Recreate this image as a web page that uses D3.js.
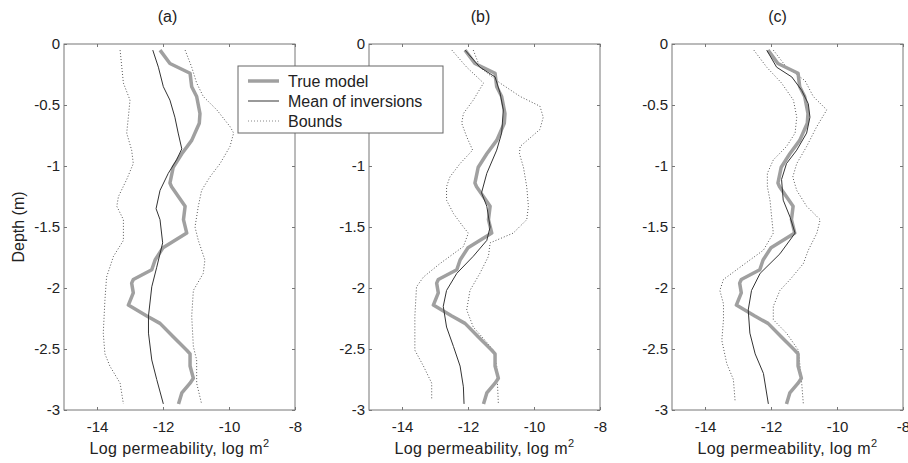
<!DOCTYPE html>
<html>
<head>
<meta charset="utf-8">
<style>
  body { margin: 0; background: #fff; }
  text { font-family: "Liberation Sans", Arial, sans-serif; fill: #222; }
  .frame { fill: none; stroke: #777; stroke-width: 1; }
  .tick line { stroke: #777; }
</style>
<script src="https://cdn.jsdelivr.net/npm/d3@7"></script>
</head>
<body>
<svg id="chart" width="908" height="463"></svg>
<script>
// data, [depth (m), log permeability]
const panelTitles = ['(a)', '(b)', '(c)'];
const xTicks = [-14, -12, -10, -8];
const yTicks = [0, -0.5, -1, -1.5, -2, -2.5, -3];
const legendLabels = ['True model', 'Mean of inversions', 'Bounds'];

const trueModel = [[-0.05,-12.09],[-0.16,-11.79],[-0.24,-11.18],[-0.35,-11.13],[-0.43,-10.98],[-0.57,-10.88],
  [-0.65,-10.90],[-0.79,-11.13],[-0.90,-11.43],[-1.01,-11.69],[-1.14,-11.79],[-1.17,-11.74],[-1.33,-11.33],
  [-1.44,-11.38],[-1.55,-11.28],[-1.67,-12.0],[-1.77,-12.24],[-1.85,-12.34],[-1.93,-12.90],[-1.96,-12.95],
  [-2.04,-12.90],[-2.14,-13.05],[-2.23,-12.49],[-2.29,-12.09],[-2.40,-11.69],[-2.51,-11.28],[-2.54,-11.18],
  [-2.64,-11.18],[-2.74,-11.08],[-2.78,-11.18],[-2.86,-11.43],[-2.95,-11.53]];

const meanA = [[-0.05,-12.31],[-0.19,-12.14],[-0.35,-11.99],[-0.46,-11.79],[-0.60,-11.64],[-0.73,-11.54],
  [-0.86,-11.43],[-0.95,-11.59],[-1.06,-11.84],[-1.20,-12.09],[-1.35,-12.21],[-1.44,-12.09],[-1.63,-12.01],
  [-1.83,-12.19],[-1.99,-12.34],[-2.23,-12.44],[-2.37,-12.44],[-2.59,-12.34],[-2.75,-12.19],[-2.95,-11.99]];
const lowerA = [[-0.05,-13.30],[-0.32,-13.20],[-0.46,-13.0],[-0.60,-13.05],[-0.73,-13.10],[-0.87,-12.95],
  [-0.98,-12.90],[-1.11,-13.10],[-1.25,-13.35],[-1.33,-13.40],[-1.44,-13.20],[-1.61,-13.20],[-1.74,-13.50],
  [-1.91,-13.71],[-2.10,-13.76],[-2.37,-13.81],[-2.54,-13.76],[-2.64,-13.61],[-2.78,-13.30],[-2.95,-13.20]];
const upperA = [[-0.05,-11.33],[-0.19,-11.13],[-0.32,-10.98],[-0.43,-10.78],[-0.54,-10.37],[-0.68,-9.96],
  [-0.73,-9.86],[-0.84,-9.97],[-0.98,-10.27],[-1.09,-10.58],[-1.20,-10.83],[-1.33,-10.93],[-1.50,-11.03],
  [-1.61,-10.93],[-1.77,-10.73],[-1.88,-10.78],[-2.02,-11.08],[-2.23,-11.13],[-2.48,-11.08],[-2.59,-10.98],
  [-2.78,-10.98],[-2.95,-10.83]];

const meanB = [[-0.05,-12.09],[-0.19,-11.64],[-0.27,-11.18],[-0.40,-11.03],[-0.54,-10.93],[-0.73,-10.98],
  [-0.87,-11.13],[-1.06,-11.43],[-1.22,-11.59],[-1.33,-11.43],[-1.50,-11.33],[-1.61,-11.43],[-1.74,-11.84],
  [-1.88,-12.34],[-2.02,-12.65],[-2.15,-12.75],[-2.32,-12.65],[-2.48,-12.44],[-2.64,-12.24],[-2.81,-12.14],
  [-2.95,-12.12]];
const lowerB = [[-0.05,-12.49],[-0.19,-12.04],[-0.32,-11.53],[-0.46,-11.84],[-0.57,-12.14],[-0.65,-12.19],
  [-0.76,-12.04],[-0.87,-11.86],[-0.98,-12.24],[-1.09,-12.55],[-1.17,-12.65],[-1.28,-12.65],[-1.39,-12.44],
  [-1.50,-12.14],[-1.55,-11.99],[-1.66,-12.14],[-1.80,-12.85],[-1.91,-13.35],[-1.99,-13.56],[-2.23,-13.61],
  [-2.51,-13.61],[-2.64,-13.35],[-2.78,-13.10],[-2.92,-13.10]];
const upperB = [[-0.05,-11.84],[-0.19,-11.64],[-0.32,-11.03],[-0.43,-10.42],[-0.51,-9.82],[-0.60,-9.72],
  [-0.70,-9.82],[-0.84,-10.42],[-0.90,-10.44],[-1.01,-10.32],[-1.17,-10.22],[-1.33,-10.17],[-1.44,-10.22],
  [-1.55,-10.63],[-1.63,-11.33],[-1.74,-11.38],[-1.88,-11.64],[-2.02,-11.94],[-2.18,-12.04],[-2.32,-11.84],
  [-2.43,-11.48],[-2.51,-11.23],[-2.64,-11.13],[-2.95,-11.08]];

const meanC = [[-0.05,-12.13],[-0.19,-11.83],[-0.27,-11.37],[-0.38,-11.07],[-0.49,-10.87],[-0.60,-10.82],
  [-0.73,-10.92],[-0.87,-11.22],[-0.98,-11.53],[-1.11,-11.68],[-1.28,-11.63],[-1.42,-11.42],[-1.55,-11.27],
  [-1.72,-11.73],[-1.88,-12.33],[-2.02,-12.59],[-2.18,-12.69],[-2.37,-12.64],[-2.54,-12.48],[-2.70,-12.23],
  [-2.95,-12.08]];
const lowerC = [[-0.05,-12.52],[-0.19,-12.13],[-0.32,-11.68],[-0.46,-11.32],[-0.60,-11.22],[-0.73,-11.27],
  [-0.84,-11.53],[-0.95,-11.93],[-1.06,-12.11],[-1.17,-12.11],[-1.28,-12.03],[-1.42,-11.98],[-1.55,-11.93],
  [-1.69,-12.23],[-1.83,-12.94],[-1.93,-13.44],[-2.02,-13.55],[-2.13,-13.44],[-2.26,-13.44],[-2.43,-13.49],
  [-2.62,-13.34],[-2.75,-13.14],[-2.92,-13.09]];
const upperC = [[-0.05,-11.93],[-0.19,-11.53],[-0.30,-10.97],[-0.43,-10.72],[-0.54,-10.31],[-0.68,-10.62],
  [-0.84,-10.92],[-0.98,-11.22],[-1.09,-11.34],[-1.20,-11.22],[-1.33,-10.92],[-1.44,-10.51],[-1.55,-10.61],
  [-1.69,-10.87],[-1.80,-11.02],[-1.93,-11.42],[-2.02,-11.73],[-2.15,-11.93],[-2.26,-11.93],[-2.37,-11.53],
  [-2.51,-11.17],[-2.64,-11.12],[-2.78,-11.07],[-2.95,-11.02]];

const panels = [
  {title: panelTitles[0], left: 64, titleShift: -12, mean: meanA, lower: lowerA, upper: upperA},
  {title: panelTitles[1], left: 369, titleShift: -4, mean: meanB, lower: lowerB, upper: upperB},
  {title: panelTitles[2], left: 672, titleShift: -10, mean: meanC, lower: lowerC, upper: upperC}
];

const plotW = 231, plotTop = 44, plotBottom = 410;
const legendBox = {x: 238, y: 66, w: 205, h: 67};
const svg = d3.select('#chart');

const y = d3.scaleLinear().domain([0, -3]).range([plotTop, plotBottom]);
const fmt = d => String(d);   // plain hyphen minus like matlab

const styles = {
  truth: {stroke: '#a0a0a0', width: 3.5, dash: null},
  mean: {stroke: '#333', width: 1, dash: null},
  bounds: {stroke: '#555', width: 1, dash: '1,2'}
};

panels.forEach((p, i) => {
  const x = d3.scaleLinear().domain([-15, -8]).range([p.left, p.left + plotW]);
  const g = svg.append('g');
  const line = d3.line().x(d => x(d[1])).y(d => y(d[0]));

  // curves
  const draw = (data, s) => g.append('path').datum(data)
    .attr('d', line).attr('fill', 'none')
    .attr('stroke', s.stroke).attr('stroke-width', s.width)
    .attr('stroke-dasharray', s.dash).attr('stroke-linejoin', 'round');
  draw(p.lower, styles.bounds);
  draw(p.upper, styles.bounds);
  draw(trueModel, styles.truth);
  draw(p.mean, styles.mean);

  // axes, ticks inward on all sides
  g.append('g').attr('transform', `translate(0,${plotBottom})`)
    .call(d3.axisBottom(x).tickValues(xTicks).tickFormat(fmt).tickSizeInner(-3).tickSizeOuter(0).tickPadding(11))
    .call(a => a.select('.domain').remove())
    .selectAll('text').attr('font-size', 15).attr('fill', '#222');
  g.append('g').attr('transform', `translate(0,${plotTop})`)
    .call(d3.axisTop(x).tickValues(xTicks).tickSizeInner(-3).tickSizeOuter(0).tickFormat(''))
    .call(a => a.select('.domain').remove());
  g.append('g').attr('transform', `translate(${p.left},0)`)
    .call(d3.axisLeft(y).tickValues(yTicks).tickFormat(fmt).tickSizeInner(-3).tickSizeOuter(0).tickPadding(4))
    .call(a => a.select('.domain').remove())
    .selectAll('text').attr('font-size', 15).attr('fill', '#222')
    // the legend box hides labels that fall under it
    .filter(function() {
      const b = this.getBBox(), ty = y(this.__data__);
      const ax = p.left - 4 - b.width;
      return ax < legendBox.x + legendBox.w && p.left > legendBox.x &&
        ty > legendBox.y && ty < legendBox.y + legendBox.h;
    }).remove();
  g.append('g').attr('transform', `translate(${p.left + plotW},0)`)
    .call(d3.axisRight(y).tickValues(yTicks).tickSizeInner(-3).tickSizeOuter(0).tickFormat(''))
    .call(a => a.select('.domain').remove());
  g.selectAll('.tick line').attr('stroke', '#777');

  g.append('rect').attr('class', 'frame')
    .attr('x', p.left).attr('y', plotTop).attr('width', plotW).attr('height', plotBottom - plotTop);

  // title and x label
  const cx = p.left + plotW / 2;
  g.append('text').attr('x', cx + p.titleShift).attr('y', 22).attr('text-anchor', 'middle')
    .attr('font-size', 16).text(p.title);
  const xl = g.append('text').attr('x', cx).attr('y', 454).attr('text-anchor', 'middle')
    .attr('font-size', 16).attr('letter-spacing', 0.4);
  xl.append('tspan').text('Log permeability, log m');
  xl.append('tspan').attr('dy', -7).attr('font-size', 11).text('2');
});

// y label
svg.append('text').attr('transform', `translate(24,${(plotTop + plotBottom) / 2}) rotate(-90)`)
  .attr('text-anchor', 'middle').attr('font-size', 16).text('Depth (m)');

// legend
const lg = svg.append('g').attr('transform', `translate(${legendBox.x},${legendBox.y})`);
lg.append('rect').attr('width', legendBox.w).attr('height', legendBox.h)
  .attr('fill', '#fff').attr('stroke', '#666').attr('stroke-width', 1);
const legendStyles = [
  styles.truth,
  {stroke: '#555', width: 1.2, dash: null},
  {stroke: '#888', width: 1, dash: '1,2'}
];
legendLabels.forEach((lab, i) => {
  const ly = 15 + i * 20;
  const s = legendStyles[i];
  lg.append('line').attr('x1', 10).attr('x2', 41).attr('y1', ly).attr('y2', ly)
    .attr('stroke', s.stroke).attr('stroke-width', s.width).attr('stroke-dasharray', s.dash);
  lg.append('text').attr('x', 50).attr('y', ly + 5.5).attr('font-size', 16).text(lab);
});
</script>
</body>
</html>
